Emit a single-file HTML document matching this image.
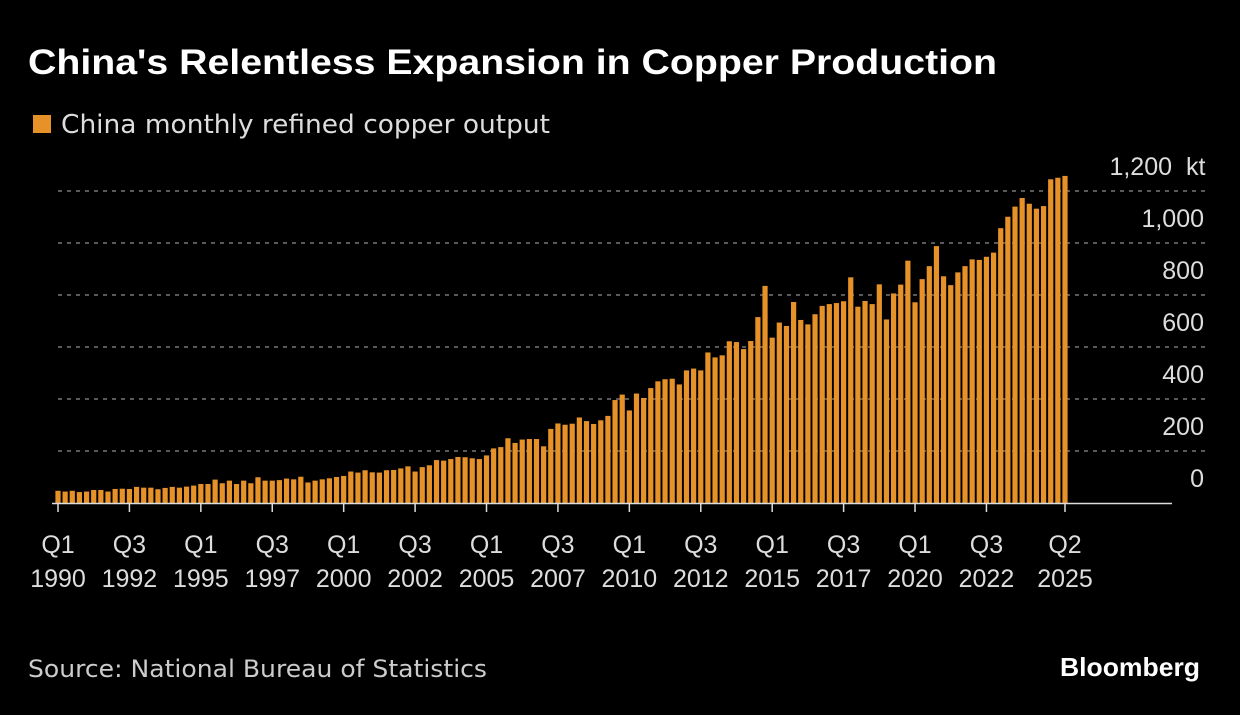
<!DOCTYPE html>
<html><head><meta charset="utf-8"><style>
body{margin:0;background:#000;width:1240px;height:710px;overflow:hidden;font-family:"Liberation Sans",sans-serif}
</style></head><body>
<svg width="1240" height="710" xmlns="http://www.w3.org/2000/svg">
<rect width="1240" height="710" fill="#000"/>
<text x="28" y="74" fill="#fff" font-size="35" font-weight="bold" textLength="969" lengthAdjust="spacingAndGlyphs" font-family="Liberation Sans, sans-serif">China's Relentless Expansion in Copper Production</text>
<rect x="33" y="115" width="18" height="18" fill="#e69228"/>
<text x="61" y="133" fill="#ddd" font-size="26" textLength="489" lengthAdjust="spacingAndGlyphs" font-family="DejaVu Sans, sans-serif">China monthly refined copper output</text>
<g id="grid"></g><g id="bars"></g><g id="axis"></g>
<text x="28" y="677" fill="#ccc" font-size="24" textLength="459" lengthAdjust="spacingAndGlyphs" font-family="DejaVu Sans, sans-serif">Source: National Bureau of Statistics</text>
<text x="1200" y="676" fill="#fff" font-size="26" font-weight="bold" text-anchor="end" textLength="140" lengthAdjust="spacingAndGlyphs" font-family="Liberation Sans, sans-serif">Bloomberg</text>
</svg>
<script>
const values=[47,44,47,42,44,50,50,44,54,55,54,62,59,59,53,58,62,59,63,67,73,73,90,76,86,73,86,76,99,86,86,88,94,91,101,79,86,91,95,100,104,121,117,126,118,117,126,127,133,141,121,138,145,165,163,169,177,
176,172,169,183,210,215,249,231,244,246,246,218,285,306,301,305,329,315,304,318,335,396,417,356,421,404,442,468,476,478,456,510,517,510,579,560,568,622,619,592,623,715,835,
636,694,681,773,704,687,726,758,765,769,776,868,755,777,765,841,706,806,840,932,772,861,911,988,872,838,887,911,937,935,947,963,1057,1101,1140,1173,1151,1132,1142,1245,1251,1258];
const yTicks=[0,200,400,600,800,1000,1200];
const xTickIdx=[0,10,20,30,40,50,60,70,80,90,100,110,120,130,141];
const xTickQ=["Q1","Q3","Q1","Q3","Q1","Q3","Q1","Q3","Q1","Q3","Q1","Q3","Q1","Q3","Q2"];
const xTickY=["1990","1992","1995","1997","2000","2002","2005","2007","2010","2012","2015","2017","2020","2022","2025"];
const NS="http://www.w3.org/2000/svg";
const y=v=>503-v*0.26, x=i=>58+i*(1065-58)/141;
function mk(t,a,p){const e=document.createElementNS(NS,t);for(const k in a)e.setAttribute(k,a[k]);document.getElementById(p).appendChild(e);return e;}
yTicks.forEach(v=>{
 if(v>0){const l=mk('line',{x1:58,x2:1205,y1:y(v),y2:y(v),stroke:'#777','stroke-width':1.5,'stroke-dasharray':'4 5'},'grid');
 
 }
 const t=mk('text',{x:v===1200?1172:1204,y:y(v)-16,fill:'#ddd','font-size':25,'text-anchor':'end','font-family':'Liberation Sans, sans-serif'},'grid');
 t.textContent=v.toLocaleString('en-US');
 
 
 if(v===1200){const k=mk('text',{x:1186,y:y(v)-16,fill:'#ddd','font-size':25,'font-family':'Liberation Sans, sans-serif'},'grid');k.textContent='kt';
 
 }
});
values.forEach((v,i)=>{
 const r=mk('rect',{x:x(i)-2.6,y:y(v),width:5.2,height:503-y(v),fill:'#e69228'},'bars');
 
 
});
const b=mk('line',{x1:52,x2:1172,y1:503.5,y2:503.5,stroke:'#ddd','stroke-width':1.5},'axis');


xTickIdx.forEach((idx,j)=>{
 const l=mk('line',{x1:x(idx),x2:x(idx),y1:503,y2:512,stroke:'#ddd','stroke-width':1.5},'axis');
 
 
 const t1=mk('text',{x:x(idx),y:553,fill:'#ddd','font-size':25,'text-anchor':'middle','font-family':'Liberation Sans, sans-serif'},'axis');
 t1.textContent=xTickQ[j];
 
 
 const t2=mk('text',{x:x(idx),y:587,fill:'#ddd','font-size':25,'text-anchor':'middle','font-family':'Liberation Sans, sans-serif'},'axis');
 t2.textContent=xTickY[j];
 
 
});
</script>
</body></html>
